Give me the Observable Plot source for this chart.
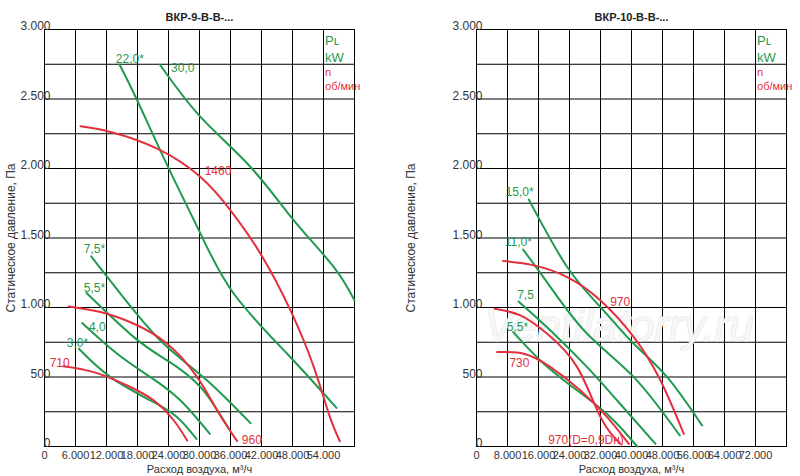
<!DOCTYPE html>
<html><head><meta charset="utf-8">
<script src="https://cdn.jsdelivr.net/npm/d3@7"></script>
<script src="https://cdn.jsdelivr.net/npm/@observablehq/plot@0.6"></script>
<style>body{margin:0;background:#fff;font-family:"Liberation Sans",Arial,sans-serif}#c{display:flex}</style>
</head><body><div id="c"></div>
<script>
// ВКР-9 curves [x m3/h, y Pa]
const p9_22 = [[14516,2748],[17935,2491],[24065,1999],[30194,1531],[36645,1099],[46967,667],[56516,278]];
const p9_30 = [[22323,2748],[30194,2371],[39871,2011],[48258,1627],[56000,1291],[60000,1051]];
const p9_75 = [[9032,1368],[17290,979],[23742,715],[31484,475],[39871,168]];
const p9_55 = [[8129,1104],[17290,787],[23742,619],[30194,427],[35677,127]];
const p9_40 = [[7290,888],[14065,667],[20516,499],[26323,331],[32000,91]];
const p9_30s = [[6645,703],[12774,499],[20516,331],[25677,211],[29419,55]];
const n9_1460 = [[6968,2304],[12774,2263],[21806,2143],[30194,1939],[36000,1699],[41806,1387],[47613,979],[52129,571],[55032,235],[57161,38]];
const n9_960 = [[4710,1008],[10839,967],[17290,883],[23742,739],[29548,499],[33419,259],[37290,38]];
const n9_710 = [[3613,578],[9548,535],[16000,439],[21161,331],[25032,187],[27613,43]];
// ВКР-10 curves
const p10_15 = [[13505,1776],[23398,1291],[32000,1003],[40602,739],[49204,499],[58237,151]];
const p10_11 = [[12043,1416],[19097,1147],[28559,811],[40602,499],[52473,79]];
const p10_75 = [[10839,1044],[19097,835],[28559,571],[36301,331],[46194,19]];
const p10_55 = [[9462,823],[17376,595],[25978,403],[34581,211],[41462,0]];
const n10_970 = [[6882,1334],[14796,1303],[23398,1219],[32000,1051],[40602,787],[47484,475],[53505,91]];
const n10_970d = [[4645,991],[11355,943],[18237,811],[25978,571],[32000,211],[37161,19]];
const n10_730 = [[5333,679],[12215,667],[19097,571],[26839,403],[33720,211],[39312,19]];

const labels9 = [["22,0*",13800,2790,"g"],["30,0",24500,2720,"g"],["7,5*",7600,1420,"g"],["5,5*",7600,1140,"g"],["4,0",8600,860,"g"],["3,0*",4300,740,"g"],["1460",31000,1980,"r"],["960",38200,45,"r"],["710",1000,600,"r"]];
const labels10 = [["15,0*",7500,1830,"g"],["11,0*",7300,1470,"g"],["7,5",10500,1090,"g"],["5,5*",7800,860,"g"],["970",34500,1040,"r"],["730",8500,600,"r"],["970(D=0,9Dн)",18500,45,"r"]];
const legendRows = [["Pʟ",G(),2921,13],["kW",G(),2798,13],["n",R(),2690,11],["об/мин",R(),2590,11]];
function G(){return "#1f9a4f";} function R(){return "#e2313c";}

const fmt=d=>d===0?"0":d3.format(",")(d).replace(/,/g,".");

function full(o){
  const marks=[
    Plot.gridX(d3.range(0,o.xmax+1,o.xstep),{stroke:"#000",strokeOpacity:1,strokeWidth:1}),
    Plot.gridY(d3.range(0,3001,250),{stroke:"#000",strokeOpacity:1,strokeWidth:1}),
    Plot.frame({stroke:"#000"}),
    Plot.axisX(d3.range(0,o.xmax,o.xstep),{tickSize:0,tickFormat:fmt,fontSize:11,label:"Расход воздуха, м³/ч",labelAnchor:"center",labelArrow:"none",labelOffset:26,tickPadding:5}),
    Plot.axisY(d3.range(0,3001,500),{tickSize:0,tickFormat:fmt,fontSize:12,tickPadding:-6,dy:-3,label:"Статическое давление, Па",labelAnchor:"center",labelArrow:"none",labelOffset:o.ml-6})
  ];
  if(o.wm) marks.push(Plot.text([o.wm],{x:o.xmax*0.46,y:860,text:d=>d,fontSize:44,fontStyle:"italic",fill:"#f7f7f7",stroke:"#e2e2e2",strokeWidth:1}));
  o.greens.forEach(cv=>marks.push(Plot.line(cv,{x:d=>d[0],y:d=>d[1],stroke:G(),strokeWidth:2,curve:"natural"})));
  o.reds.forEach(cv=>marks.push(Plot.line(cv,{x:d=>d[0],y:d=>d[1],stroke:R(),strokeWidth:2,curve:"natural"})));
  marks.push(Plot.text(o.labels,{x:d=>d[1],y:d=>d[2],text:d=>d[0],fill:d=>d[3]==="g"?G():R(),fontSize:12,textAnchor:"start"}));
  marks.push(Plot.text(legendRows,{x:o.xmax*0.905,y:d=>d[2],text:d=>d[0],fill:d=>d[1],fontSize:d=>d[3],textAnchor:"start"}));
  marks.push(Plot.text([o.title],{frameAnchor:"top",dy:-16,text:d=>d,fontWeight:"bold",fontSize:11,fill:"#222"}));
  return Plot.plot({width:400,height:476,marginLeft:o.ml,marginRight:o.mr,marginTop:29,marginBottom:30,
    style:{fontFamily:"'Liberation Sans Narrow','Liberation Sans',Arial,sans-serif",color:"#333",background:"#fff",overflow:"visible"},
    x:{domain:[0,o.xmax]},y:{domain:[0,3000]},marks});
}
const c=document.getElementById("c");
c.appendChild(full({title:"ВКР-9-В-В-...",xmax:60000,xstep:6000,ml:44,mr:46,greens:[p9_22,p9_30,p9_75,p9_55,p9_40,p9_30s],reds:[n9_1460,n9_960,n9_710],labels:labels9}));
c.appendChild(full({title:"ВКР-10-В-В-...",xmax:80000,xstep:8000,ml:76,mr:14,greens:[p10_15,p10_11,p10_75,p10_55],reds:[n10_970,n10_970d,n10_730],labels:labels10,wm:"Ventilatorry.ru"}));
</script></body></html>
